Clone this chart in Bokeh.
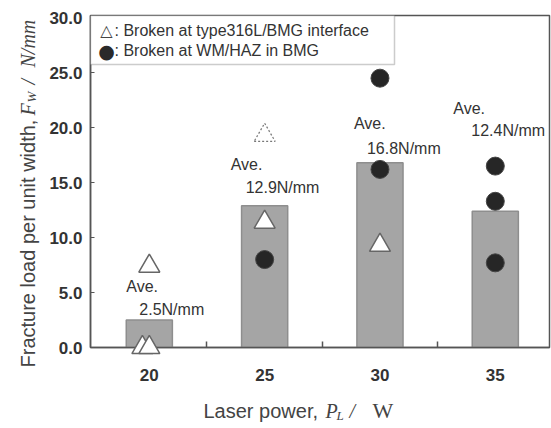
import math
from bokeh.plotting import figure
from bokeh.models import Range1d, FixedTicker, NumeralTickFormatter, Label, BoxAnnotation
from bokeh.core.properties import value
from bokeh.embed import file_html
from bokeh.resources import INLINE

# ---------------- data ----------------
laser_power = [20, 25, 30, 35]
average_load = [2.5, 12.9, 16.8, 12.4]
average_text = ["2.5N/mm", "12.9N/mm", "16.8N/mm", "12.4N/mm"]

interface_x = [20, 19.7, 20.0, 25, 30]          # broken at type316L/BMG interface
interface_load = [7.4, 0.0, 0.0, 11.4, 9.3]
interface_dashed_x = [25]
interface_dashed_load = [19.3]

wm_x = [25, 30, 30, 35, 35, 35]                  # broken at WM/HAZ in BMG
wm_load = [8.0, 24.5, 16.2, 16.5, 13.3, 7.7]

x_ticks = [20, 25, 30, 35]
x_minor_ticks = [22.5, 27.5, 32.5]
y_ticks = [0, 5, 10, 15, 20, 25, 30]

legend_labels = [": Broken at type316L/BMG interface", ": Broken at WM/HAZ in BMG"]

# ---------------- layout ----------------
W, H = 551, 428
FL, FR, FT, FB = 90, 549, 15, 347
X0, X1 = 17.45, 37.35
Y0, Y1 = 0.0, 30.2


def dx(px):
    return X0 + (px - FL) * (X1 - X0) / (FR - FL)


def dy(py):
    return Y0 + (FB - py) * (Y1 - Y0) / (FB - FT)


def ux(px):  # pixel length -> data length (x)
    return px * (X1 - X0) / (FR - FL)


def uy(px):  # pixel length -> data length (y)
    return px * (Y1 - Y0) / (FB - FT)


SANS = "Liberation Sans"
SERIF = "Liberation Serif"
TXT = "#333333"
AX = "#555555"

p = figure(width=W, height=H, output_backend="svg", toolbar_location=None,
           x_range=Range1d(X0, X1), y_range=Range1d(Y0, Y1),
           min_border_left=FL, min_border_right=W - FR,
           min_border_top=FT, min_border_bottom=H - FB)
p.grid.visible = False
p.outline_line_color = AX
p.outline_line_width = 1.5
p.background_fill_color = "white"
p.border_fill_color = "white"

# axes
xa = p.xaxis[0]
xa.ticker = FixedTicker(ticks=x_ticks, minor_ticks=x_minor_ticks)
xa.major_tick_in = 0
xa.major_tick_out = 0
xa.minor_tick_in = 6
xa.minor_tick_out = 0
xa.minor_tick_line_color = AX
xa.minor_tick_line_width = 1.5
xa.axis_line_color = AX
xa.axis_line_width = 1.5
xa.major_label_standoff = 21
xa.major_label_text_font = SANS
xa.major_label_text_font_style = "bold"
xa.major_label_text_font_size = "17px"
xa.major_label_text_color = TXT

ya = p.yaxis[0]
ya.ticker = FixedTicker(ticks=y_ticks, minor_ticks=[])
ya.formatter = NumeralTickFormatter(format="0.0")
ya.major_tick_in = 4
ya.major_tick_out = 0
ya.major_tick_line_color = AX
ya.minor_tick_line_color = None
ya.axis_line_color = AX
ya.axis_line_width = 1.5
ya.major_label_standoff = 8
ya.major_label_text_font = SANS
ya.major_label_text_font_style = "bold"
ya.major_label_text_font_size = "17px"
ya.major_label_text_color = TXT

# bars (averages)
p.vbar(x=laser_power, top=average_load, width=2.0,
       fill_color="#a5a5a5", line_color="#8e8e8e", line_width=1.5)

# markers (not clipped at the axis: overlay level)
p.scatter(interface_x, interface_load, marker="triangle", size=21,
          fill_color="white", line_color="#666666", line_width=1.5, level="overlay")
p.scatter(interface_dashed_x, interface_dashed_load, marker="triangle", size=21,
          fill_color="white", line_color="#777777", line_width=1.2,
          line_dash="2 2", level="overlay")
p.scatter(wm_x, wm_load, marker="circle", size=18,
          fill_color="#262626", line_color="#444444", line_width=1, level="overlay")

# average annotations (offsets in pixels relative to the bar)
ave_offsets = [  # (Ave. dx, Ave. dy, value dx, value dy)
    (-23, 34, -10, 11),
    (-34, 41, -19, 18),
    (-26, 39, -13, 14),
    (-42, 103, -24, 81),
]
for xv, yv, txt, (a_dx, a_dy, v_dx, v_dy) in zip(laser_power, average_load, average_text, ave_offsets):
    p.add_layout(Label(x=xv + ux(a_dx), y=yv + uy(a_dy), text="Ave.",
                       text_font=SANS, text_font_size="16px", text_color=TXT,
                       text_align="left", text_baseline="middle"))
    p.add_layout(Label(x=xv + ux(v_dx), y=yv + uy(v_dy), text=txt,
                       text_font=SANS, text_font_size="16px", text_color=TXT,
                       text_align="left", text_baseline="middle"))

# legend box
p.add_layout(BoxAnnotation(left=X0, right=dx(394), top=Y1, bottom=dy(64),
                           fill_color="white", fill_alpha=1.0,
                           line_color=AX, line_width=1.5, level="annotation"))
p.add_layout(Label(x=dx(106), y=dy(30), text="△", text_font="DejaVu Sans",
                   text_font_size="16px", text_color="#444444",
                   text_align="center", text_baseline="middle"))
p.add_layout(Label(x=dx(106), y=dy(50), text="●", text_font="DejaVu Sans",
                   text_font_size="19px", text_color="#2a2a2a",
                   text_align="center", text_baseline="middle"))
for labtxt, py in zip(legend_labels, [30, 50]):
    p.add_layout(Label(x=dx(114), y=dy(py), text=labtxt, text_font=SANS,
                       text_font_size="16px", text_color=TXT,
                       text_align="left", text_baseline="middle"))


# axis titles as text glyphs at overlay level (not clipped to the frame)
def lab(px, py, t, font, size, style="normal", angle=0.0):
    p.text(x=[dx(px)], y=[dy(py)], text=[t], angle=angle,
           text_font=value(font), text_font_size=value(size),
           text_font_style=value(style), text_color="#444444",
           text_align="left", text_baseline="alphabetic", level="overlay")


# x axis title: Laser power, P_L / W
lab(203, 410, "Laser power,", SANS, "20px")
lab(325, 410, "P", SERIF, "20px", "italic")
lab(336, 415, "L", SERIF, "13px", "italic")
lab(349, 410, "/", SERIF, "20px", "italic")
lab(372, 410, "W", SERIF, "22px")

# y axis title: Fracture load per unit width, F_W / N/mm  (rotated)
A = math.pi / 2
lab(27, 367, "Fracture load per unit width,", SANS, "20px", angle=A)
lab(27, 115, "F", SERIF, "20px", "italic", angle=A)
lab(31, 102, "W", SERIF, "13px", "italic", angle=A)
lab(27, 84, "/", SERIF, "20px", "italic", angle=A)
lab(27, 67, "N/mm", SERIF, "20px", "italic", angle=A)

open("out.html", "w").write(file_html(p, INLINE))
